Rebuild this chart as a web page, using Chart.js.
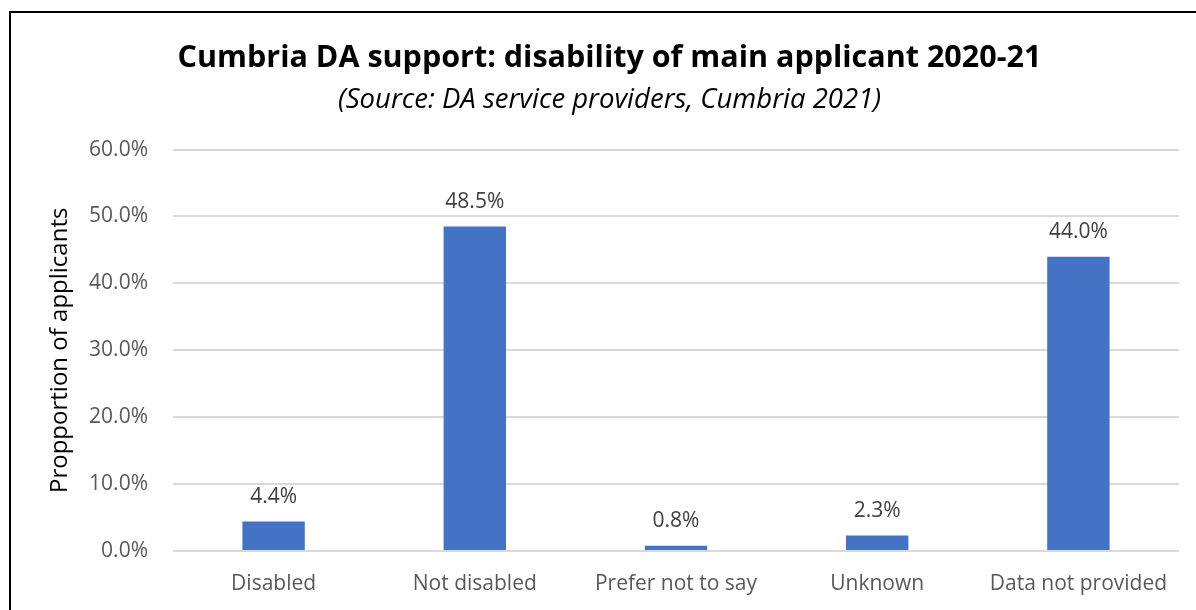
<!DOCTYPE html>
<html>
<head>
<meta charset="utf-8">
<script src="https://cdn.jsdelivr.net/npm/chart.js@4"></script>
<style>
  body { margin: 0; background: #fff; overflow: hidden; }
  #wrap { position: absolute; left: 0; top: 0; width: 1220px; height: 610px; }
  #frame { position: absolute; left: 9px; top: 11px; width: 1400px; height: 800px;
           border-left: 2px solid #000; border-top: 2px solid #000; }
  canvas { position: absolute; left: 0; top: 0; }
</style>
</head>
<body>
<div id="wrap">
  <div id="frame"></div>
  <canvas id="daChart" width="1220" height="610"></canvas>
</div>
<script>
const categories = ['Disabled', 'Not disabled', 'Prefer not to say', 'Unknown', 'Data not provided'];
const proportions = [4.4, 48.5, 0.8, 2.3, 44.0];
const yTicks = [0, 10, 20, 30, 40, 50, 60];

const FONT = '"Open Sans", Lato, sans-serif';

// value labels above each bar
const barLabels = {
    id: 'barLabels',
    afterDatasetsDraw(chart) {
        const ctx = chart.ctx;
        const meta = chart.getDatasetMeta(0);
        ctx.save();
        ctx.font = '21px ' + FONT;
        ctx.fillStyle = '#404040';
        ctx.textAlign = 'center';
        ctx.textBaseline = 'bottom';
        meta.data.forEach((bar, i) => {
            ctx.fillText(proportions[i].toFixed(1) + '%', bar.x, bar.y - 14);
        });
        ctx.restore();
    }
};

new Chart(document.getElementById('daChart'), {
    type: 'bar',
    data: {
        labels: categories,
        datasets: [{
            data: proportions,
            backgroundColor: '#4472C4',
            categoryPercentage: 1,
            barPercentage: 0.31
        }]
    },
    plugins: [barLabels],
    options: {
        responsive: false,
        animation: false,
        layout: { padding: { left: 40, right: 41, top: 0, bottom: 0 } },
        plugins: {
            legend: { display: false },
            tooltip: { enabled: false },
            title: {
                display: true,
                text: 'Cumbria DA support: disability of main applicant 2020-21',
                color: '#000',
                font: { family: FONT, size: 30.5, weight: 'bold' },
                padding: { top: 40, bottom: 7 }
            },
            subtitle: {
                display: true,
                text: '(Source: DA service providers, Cumbria 2021)',
                color: '#000',
                font: { family: FONT, size: 27.5, style: 'italic' },
                padding: { top: 0, bottom: 33 }
            }
        },
        scales: {
            x: {
                grid: { display: false },
                border: { display: false },
                ticks: { color: '#595959', font: { family: FONT, size: 21 }, padding: 12 },
                afterFit(scale) { scale.height = 59; }
            },
            y: {
                min: 0,
                max: 60,
                afterBuildTicks(scale) { scale.ticks = yTicks.map(v => ({ value: v })); },
                grid: { color: '#d9d9d9', lineWidth: 2, drawTicks: false },
                border: { display: false },
                ticks: {
                    color: '#595959',
                    font: { family: FONT, size: 21 },
                    padding: 25,
                    callback: v => v.toFixed(1) + '%'
                },
                title: {
                    display: true,
                    text: 'Propportion of applicants',
                    color: '#000',
                    font: { family: FONT, size: 24 },
                    padding: { top: 6, bottom: 0 }
                },
                afterFit(scale) { scale.width = 133; }
            }
        }
    }
});
</script>
</body>
</html>
